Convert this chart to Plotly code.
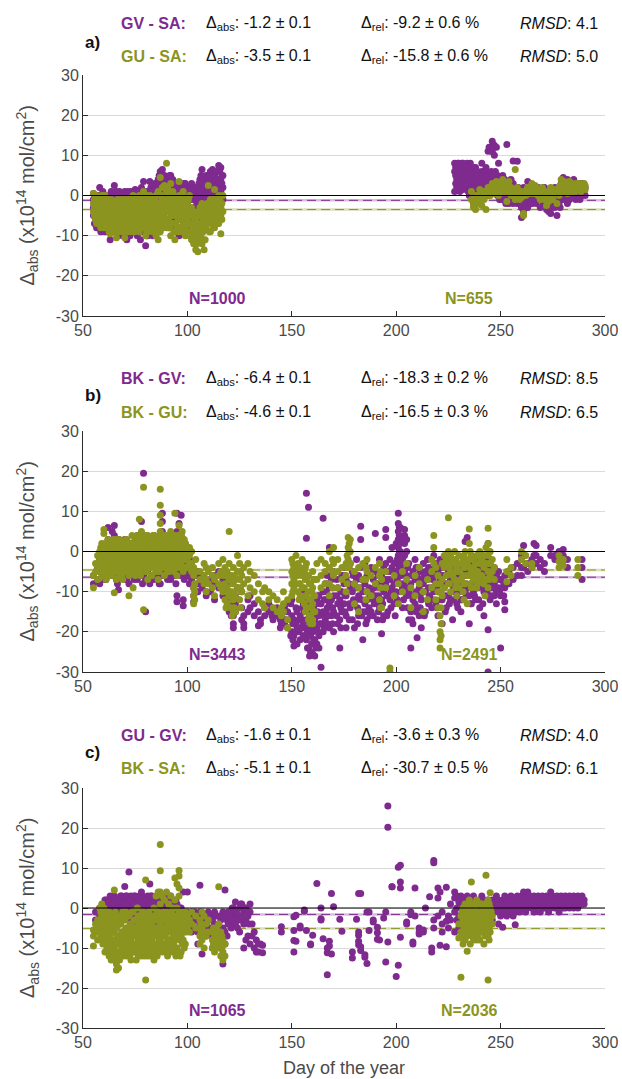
import plotly.graph_objects as go

# ---------------- DATA (day of year, list of differences x1e14 mol/cm2) ----------------
a_gv_sa = [
    (55, [-1, -3, -5, 0.5]), (56, [-2, -4, -6, 0]), (57, [-3, -5.5, -1]), (58, [-2, -6, 2]),
    (59, [-4, -8, -1]), (60, [-3, -5, -7]), (62, [-2, -6, -9]), (63, [-11, -4]),
    (64, [-3, -1, -7]), (65, [2.5, -5, -9]), (66, [1, -4, -8]), (67, [-2, -6, -10]),
    (68, [0, -3, -7]), (70, [-1, -5, -9, 1]), (71, [-3, -11, -7]), (72, [0.5, -4, -8]),
    (73, [-2, -6, 1]), (74, [-1, -9, -5]), (75, [1.5, -3, -7]), (76, [0, -4, -8, -10]),
    (77, [-2, -6, 1]), (78, [2, -1, -5, -9]), (79, [3.5, -3, -7]), (80, [-12.5, 0, -4, -8]),
    (81, [1, -2, -6, -10]), (82, [3.5, 0, -5]), (83, [-1, -3, -8]), (84, [2, 0, -4, -9]),
    (85, [3, -2, -6]), (86, [4, 1, -3, -7]), (87, [6, 3, 0, -5]), (88, [6.5, 4, 1, -2]),
    (89, [5, 3, -1, -4]), (90, [4.5, 2, -2, -6]), (91, [4, 1, -3, -8]), (92, [5, 2, 0, -4]),
    (93, [4, 1, -2, -7]), (94, [3, 0, -4, -9]), (95, [2, -1, -5]), (96, [1, -2, -6, -10]),
    (97, [3, 0, -3, -8]), (98, [2, -1, -5]), (99, [3, 0, -4]), (100, [2, -2, -7]),
    (101, [1, -3, -8]), (102, [3, 0, -5]), (103, [2, -1, -9]), (104, [1, -4, -10]),
    (105, [0, -3, -7]), (106, [4, 2, -2]), (107, [6.5, 3, -1, -6]), (108, [2, -2, -8]),
    (109, [5, 1, -3]), (110, [4, 0, -4]), (111, [6, 2, -2]), (112, [6.5, 3, -1, -5]),
    (113, [5, 2, -3]), (114, [6, 1, -2]), (115, [7.5, 3, 0, -4]), (116, [7, 4, 1]),
    (117, [5, 2, -1]),
    (55.5, [-2, -4, -7]), (56.5, [-1, -5, -8]), (57.5, [0, -3, -7]), (58.5, [-1, -4, -9]),
    (59.5, [1, -2, -6]), (60.5, [0, -4, -9]), (61.5, [-1, -3, -6, -8]), (62.5, [0, -4, -7]),
    (63.5, [1, -2, -6]), (64.5, [-2, -5, -9]), (65.5, [0, -3, -7]), (66.5, [-1, -6, -10]),
    (67.5, [1, -4, -8]), (68.5, [-2, -5, -9]), (69.5, [0, -3, -6, -10]), (70.5, [-2, -7]),
    (71.5, [1, -1, -5, -9]), (72.5, [-2, -6, -10]), (73.5, [0, -3, -8]), (74.5, [1, -4, -7]),
    (75.5, [-1, -5, -9]), (76.5, [1, -2, -6]), (77.5, [0, -4, -8, -11]), (78.5, [-2, -6]),
    (79.5, [1, -1, -5, -9]), (80.5, [-2, -6, -10]), (81.5, [0, -4, -8]), (82.5, [2, -2, -7]),
    (83.5, [1, -5, -10]), (84.5, [3, -1, -6]), (85.5, [2, -4, -8]), (86.5, [5, 2, -1, -5]),
    (87.5, [4, 1, -3, -7]), (88.5, [5, 2, -1, -5]), (89.5, [4, 0, -3, -7]), (90.5, [3, 0, -4]),
    (91.5, [5, 2, -1, -6]), (92.5, [3, 0, -3, -8]), (93.5, [2, -1, -5]), (94.5, [1, -2, -6]),
    (95.5, [3, 0, -3, -8]), (96.5, [2, -1, -4]), (97.5, [1, -2, -6, -9]), (98.5, [3, 0, -3]),
    (99.5, [1, -2, -6]), (100.5, [0, -4, -8]), (101.5, [2, -1, -6]), (102.5, [1, -3, -7]),
    (103.5, [0, -5, -8]), (104.5, [2, -2, -6]), (105.5, [3, -1, -5]), (106.5, [5, 1, -3]),
    (107.5, [4, 0, -4]), (108.5, [3, -1, -6]), (109.5, [2, -2, -5]), (110.5, [5, 1, -3]),
    (111.5, [4, 0, -4]), (112.5, [5, 1, -2]), (113.5, [3, 0, -4]), (114.5, [4, 2, -1]),
    (115.5, [6, 2, -2]), (116.5, [5, 3, 0]),
    (228, [8, 6, 1]), (229, [7, 4, 2]), (230, [8, 5, 3]), (231, [7.5, 6]), (232, [8, 5, 1.5]),
    (233, [7, 4, 2]), (234, [6.5, 8, 3]), (235, [7, 5, 0]), (236, [5, 7, 2]), (237, [6, 4, -2]),
    (238, [7, 5, 1]), (239, [3, 6, -1]), (240, [5, 2, 4]), (241, [6, 3, 8, 0]), (242, [5, 3, 1]),
    (243, [4, 7, 2]), (244, [11, 4, 0]), (245, [12, 5, 3]), (246, [13.5, 11, 2]),
    (247, [12.5, 10, 4]), (248, [12, 5, 1]), (249, [8, 3, 0]), (250, [4, 2, -1]),
    (251, [5, 1, 3]), (252, [4, 2, 0]), (253, [12.7, 3, 1, -1]), (254, [2, 0, -2]),
    (255, [1, 4]), (256, [8.6, 3, 0, -2]), (257, [2, -1]), (258, [8.5, 1, -2]),
    (259, [1, -2, -1]), (260, [0, -3, -5.5]), (261, [2, -1, -4]), (262, [1, -2]),
    (263, [3.5, 0, -3]), (264, [1, -1]), (265, [2, -2]), (266, [0, -1.5]), (267, [1, -2]),
    (268, [2, 0]), (269, [0, -3]), (270, [1, -1]), (271, [2, -2]), (272, [0, -3.5]),
    (273, [1, -4]), (274, [0, -4.5]), (275, [1, -2]), (276, [2, -3]), (277, [-5, 0]),
    (278, [1, -2]), (279, [3, -1]), (280, [4.5, 2, -1]), (281, [3, 0]), (282, [4, 1, -2]),
    (283, [2, -1]), (284, [3, 0]), (285, [4, 1]), (286, [2, -1]), (287, [3, 0]),
    (288, [2, -1]), (289, [3, 0]), (290, [2, 1]),
    (228.5, [7, 5, 3]), (229.5, [8, 6, 2]), (230.5, [6, 4, 1]), (231.5, [8, 5, 3]),
    (232.5, [7, 4, 2]), (233.5, [6, 5, 3]), (234.5, [7, 5, 1]), (235.5, [8, 6, 4]),
    (236.5, [6, 3, 1]), (237.5, [7, 5, 2]), (238.5, [6, 4, 0]), (239.5, [5, 3, 1]),
    (240.5, [4, 2, 0]), (241.5, [5, 3, 1]), (242.5, [6, 4, 2]), (243.5, [5, 3, 0]),
    (244.5, [12, 4, 2]), (245.5, [11, 6, 4]), (246.5, [12, 5, 3]), (247.5, [6, 4, 1]),
    (248.5, [5, 3, 0]), (249.5, [4, 2, -1]), (250.5, [3, 1, 0]), (251.5, [4, 2, -1]),
    (252.5, [3, 1, -2]), (254.5, [2, 0, -1]), (256.5, [1, -1]), (258.5, [2, 0]),
    (260.5, [1, -2]), (262.5, [0, -1, -3]), (264.5, [2, 0, -2]), (266.5, [2, -1]),
    (268.5, [1, -1]), (270.5, [2, 0, -2]), (272.5, [1, -2]), (274.5, [0, -3]),
    (276.5, [1, -1]), (278.5, [0, -3]), (280.5, [3, 0]), (282.5, [2, -1]), (284.5, [1, 3]),
    (286.5, [2, 0]), (288.5, [1, 3]), (290.5, [2, 0]),
]

a_gu_sa = [
    (55, [0.5, -2, -4]), (56, [-1, -3, -6]), (57, [-2, -5]), (58, [-3, -1, -7]),
    (59, [0, -4, -6]), (60, [-2, -5, -8]), (61, [-3, -6]), (62, [-1, -4, -7]),
    (63, [-2, -9.5, -5]), (64, [-3, -6, -8]), (65, [-1.5, -4, -7]), (66, [-2, -5, -10.5]),
    (67, [-3, -6, -8]), (68, [-1, -4, -7]), (69, [-2, -5, -9]), (70, [-3, -6, -10.5]),
    (71, [-1, -4, -8]), (72, [-2, -5, -7]), (73, [-3, -6, -9]), (74, [0, -4, -7]),
    (75, [-2, -5, -8]), (76, [-1, -3, -6]), (77, [0, -4, -7, -9]), (78, [-2, -5, -8]),
    (79, [1, -3, -6]), (80, [-1, -4, -7, -10]), (81, [-2, -5, -9]), (82, [0, -3, -6]),
    (83, [-1, -4, -8]), (84, [-2, -5, -7]), (85, [0, -3, -6, -10]), (86, [1, -4, -11]),
    (87, [4.5, -2, -5, -9]), (88, [2, -1, -6]), (89, [2.5, -3, -7]), (90, [8, 1, -4, -8]),
    (91, [0, -2, -6]), (92, [3, -1, -5, -10]), (93, [1, -3, -7]), (94, [-2, -5, -11]),
    (95, [-1, -4, -8]), (96, [3.5, 0, -3, -6]), (97, [-2, -5, -9]), (98, [1, -3, -7]),
    (99, [-1, -4, -8, -10]), (100, [-2, -6, -9]), (101, [0, -5, -10]), (102, [-3, -7, -11]),
    (103, [-4, -9, -12]), (104, [-6, -10, -13.5]), (105, [-5, -8, -14]), (106, [-3, -9, -11]),
    (107, [-2, -7, -12]), (108, [-4, -6, -13.5]), (109, [-3, -8]), (110, [2.5, -2, -5]),
    (111, [-1, -4, -9]), (112, [-3, -6]), (113, [1.5, -2, -8]), (114, [-1, -5]),
    (115, [0, -4, -7]), (116, [-3, -5, -9.5]), (117, [0, -4]),
    (55.5, [-1, -3, -5]), (56.5, [0, -2, -4, -7]), (57.5, [-1, -4, -6]), (58.5, [-2, -5, -8]),
    (59.5, [-1, -3, -7]), (60.5, [0, -4, -6]), (61.5, [-2, -5, -8]), (62.5, [-3, -6, -9]),
    (63.5, [-1, -4, -7]), (64.5, [-2, -5, -8]), (65.5, [-3, -6, -9]), (66.5, [-1, -4, -7]),
    (67.5, [-2, -5, -9]), (68.5, [-3, -6, -8]), (69.5, [-1, -4, -7]), (70.5, [-2, -5, -8]),
    (71.5, [-3, -6, -9]), (72.5, [-1, -4, -8]), (73.5, [-2, -5, -7]), (74.5, [-3, -6, -9]),
    (75.5, [-1, -4, -7]), (76.5, [-2, -5, -8]), (77.5, [-3, -6]), (78.5, [-1, -4, -7]),
    (79.5, [-2, -5, -8]), (80.5, [0, -3, -6, -9]), (81.5, [-1, -4, -7]), (82.5, [-2, -5, -8]),
    (83.5, [-3, -6, -9]), (84.5, [-1, -4, -7]), (85.5, [-2, -5, -8]), (86.5, [-3, -6, -9]),
    (87.5, [0, -4, -7]), (88.5, [-2, -5, -8]), (89.5, [-1, -4, -6]), (90.5, [2, -3, -7]),
    (91.5, [-1, -4, -8]), (92.5, [-2, -5, -7]), (93.5, [0, -4, -9]), (94.5, [-1, -3, -7]),
    (95.5, [-2, -6, -9]), (96.5, [-1, -4, -8]), (97.5, [0, -3, -6]), (98.5, [-2, -5, -9]),
    (99.5, [-3, -6]), (100.5, [-1, -4, -7]), (101.5, [-3, -7, -9]), (102.5, [-5, -8, -10]),
    (103.5, [-6, -9, -11]), (104.5, [-7, -9, -12]), (105.5, [-4, -7, -10]),
    (106.5, [-5, -8, -10]), (107.5, [-3, -6, -9]), (108.5, [-5, -8, -11]), (109.5, [-2, -5, -7]),
    (110.5, [-3, -6, -9]), (111.5, [-2, -5, -7]), (112.5, [-1, -4, -8]), (113.5, [-3, -6]),
    (114.5, [-2, -4, -7]), (115.5, [-1, -5]), (116.5, [-2, -6]),
    (236, [1, -1]), (237, [-2, -3]), (238, [-3.5, -1]), (239, [-2, 0]), (240, [-1, 1.5]),
    (241, [0, -2.5]), (242, [1, -1]), (243, [0.5, -3.5]), (244, [1, 2]), (245, [0, 1.5]),
    (246, [1, 3]), (247, [2, 0.5]), (248, [1.5, 3.5]), (249, [2, 0]), (250, [1, 3]),
    (251, [2, 4]), (252, [3, 1]), (253, [2, -1.5]), (254, [3.5, 1]), (255, [2, 0]),
    (257, [6.5, 1, -1]), (258, [0.5, 2]), (259, [1, -1]), (260, [-0.5, 1]), (261, [-5, -4.5]),
    (262, [0, 1]), (263, [1, 2]), (264, [0.5, 1.5]), (265, [3, 2]), (266, [2, 0.5]),
    (267, [1, 2]), (268, [0, 1.5]), (269, [1, -1]), (270, [0.5, 2]), (271, [-1, 1]),
    (272, [0, -2.5]), (273, [-1.5, 1]), (274, [0, 2]), (275, [1, -1]), (276, [0.5, 1.5]),
    (277, [1, -2]), (278, [2, 0]), (279, [2.5, 4]), (280, [3, 1]), (281, [1.5, 3]),
    (282, [2.5, 0.5]), (283, [3.5, 1]), (284, [2, 3]), (285, [2.5, 1.5]), (286, [3, 1]),
    (287, [2, 2.5]), (288, [3, 1.5]), (289, [2, 2.5]), (290, [3, 2]),
    (238.5, [-2, 0]), (240.5, [0, -1]), (242.5, [1, 0]), (244.5, [0, 1.5]), (246.5, [2, 1]),
    (248.5, [2, 0.5]), (250.5, [2, 1]), (252.5, [2, 3]), (254.5, [2, 0.5]),
    (262.5, [0.5, 1.5]), (266.5, [1, 2.5]), (270.5, [1, 0]), (274.5, [1, 0.5]),
    (278.5, [1, 2.5]), (280.5, [2, 3.5]), (282.5, [1.5, 3]), (284.5, [2.5, 1]),
    (286.5, [2, 3]), (288.5, [2.5, 1]), (290.5, [2.5, 1.5]),
]

b_bk_gv = [
    (55, [-6, -8]), (57, [-4, -7]), (58, [-2, -5, -8]), (60, [-1, -4, -6]), (61, [1, -3, -7]),
    (62, [6, 3, -2, -5]), (63, [2, -1, -4]), (64, [5, 0, -3, -6]), (65, [6.5, 4, 0, -5]),
    (66, [1, -2, -7]), (67, [3, -1, -4, -9.5]), (68, [2, -3, -6]), (69, [0, -2, -5]),
    (70, [3, -1, -4]), (71, [2, -3, -7]), (72, [1, -2, -5, -8]), (73, [2, 0, -4]),
    (74, [1, -3, -6]), (75, [3, -1, -5]), (76, [4, 0, -4, -7]), (77, [2, -2, -6]),
    (78, [7.5, 3, 0, -5]), (79, [19.5, 4, -2, -6]), (80, [-15, 1, -3, -7]), (81, [2, -1, -5]),
    (82, [3, 0, -4, -8]), (83, [1, -3, -6]), (84, [4, 0, -2, -7]), (85, [3, -1, -5]),
    (86, [2, -3, -6]), (87, [4, 0, -4, -8]), (88, [9.5, 7.5, 5, 2, -3, -6]), (89, [3, -1, -5]),
    (90, [2, -2, -6]), (91, [4, 0, -4]), (92, [3, -1, -5, -7]), (93, [2, -2, -6]),
    (94, [4, 0, -3]), (95, [9.5, 5, -11, -12.5]), (96, [7, 3, -1, -5]), (97, [9, 4, -2, -6]),
    (98, [-12, -13.5, -3]), (99, [2, -1, -4]), (100, [0, -3, -6]), (101, [-2, -5, -8]),
    (60.5, [-5, -7]), (66.5, [-6, -8]), (70.5, [-6, -7]), (74.5, [-7]), (78.5, [-6, -8]),
    (82.5, [-7]), (86.5, [-6, -8]), (90.5, [-7]), (94.5, [-6, -8]), (98.5, [-5, -7]),
    (102, [-4, -7]), (103, [-9, -11, -12.5]), (104, [-6, -10]), (105, [-5, -8, -10]),
    (107, [-6, -9]), (109, [-10, -11]), (111, [-7, -10]), (113, [-6, -8, -12]),
    (115, [-5, -9]), (117, [-7, -11]), (119, [-8, -12, -14]), (120, [-10, -13, -15]),
    (121, [-12, -14, -16]), (122, [-14, -16, -18, -19]), (123, [-11, -13, -15]),
    (124, [-9, -12]), (126, [-10, -14, -17]), (127, [-16, -18, -19]), (129, [-12, -15]),
    (130, [-11, -14]), (132, [-13, -16]), (134, [-15, -18.5]), (135, [-17, -18]),
    (137, [-14, -16]), (139, [-13, -15]), (141, [-15, -17]), (143, [-14, -16]),
    (145, [-16, -18]), (147, [-13, -15, -17]), (148, [-15, -19]), (150, [-12, -16, -20]),
    (151, [-17, -21, -23.5]), (152, [-14, -18, -20]), (154, [-16, -19, -22]),
    (155, [-10, -14, -17]), (156, [-12, -15, -19, -21]), (157, [14.5, 3.3, -13, -17, -22]),
    (158, [11, -15, -19, -24]), (159, [-13, -18, -21, -25]), (160, [-16, -20, -25.5]),
    (161, [-17, -22, -26]), (162, [-12, -19, -23]), (163, [-11, -16, -21, -24]),
    (164, [-28.8, -18, -13]), (165, [8.3, -10, -15, -20]), (166, [-8, -12, -17]),
    (167, [-6, -14, -18]), (168, [1, -9, -13, -19]), (169, [-7, -12, -16]),
    (170, [-5, -11, -15, -20]), (172, [-9, -13, -18]), (173, [-12, -17, -24]),
    (174, [-6, -10, -15]), (175, [-4, -8, -13]), (176, [-7, -11, -16, -19]),
    (178, [-3, -9, -14]), (179, [-5, -10, -17]), (180, [-8, -13, -19]), (181, [-2, -7, -12]),
    (182, [-6, -11, -16]), (183, [6.3, 3, -4, -9]), (184, [-10, -15, -22]),
    (185, [-3, -8, -13]), (186, [-6, -12, -17]), (187, [-9, -14]), (188, [-4, -10, -15]),
    (189, [-7, -12, -16]), (190, [4.5, -5, -11]), (191, [-8, -13, -17]), (192, [-2, -9, -14]),
    (193, [-6, -12, -20.5]), (194, [-4, -10, -16]), (195, [5.5, 3.5, -3, -8]),
    (196, [-5, -11, -15]), (197, [-2, -7, -12]), (198, [1, -4, -9]), (199, [-3, -8, -13]),
    (200, [2, -5, -10]), (201, [9.5, 7, 5, 3, 1, -1, -3, -6]), (202, [6, 3, 0, -4, -8]),
    (203, [-2, -9, -14]), (204, [5.5, 4, 2, -1, -5]), (205, [3, 0, -6, -11]),
    (206, [-3, -10, -17]), (207, [-8, -15, -24]), (208, [-5, -12, -18]), (209, [-2, -7, -13]),
    (210, [-6, -14, -21.5]), (211, [-4, -9, -16]), (212, [-7, -12, -19]), (213, [-3, -8]),
    (214, [-5, -10, -15]), (215, [-2, -7, -12]), (216, [-6, -11]), (217, [-4, -9, -14]),
    (218, [-1, -6, -10]), (219, [-3, -8, -13]), (220, [-5, -10, -16]), (221, [-2, -7]),
    (222, [-6, -12, -18]), (223, [-4, -9]), (224, [-3, -8, -14]), (225, [-5, -11]),
    (226, [-2, -7, -12]), (227, [-6, -10, -17]), (228, [-4, -8]), (229, [-3, -9, -13]),
    (230, [-5, -10]), (231, [-7, -12, -15]), (232, [-4, -8]), (233, [2.5, -2, -6, -10]),
    (234, [3.5, -4, -9]), (235, [-6, -11, -18]), (236, [-3, -8, -13]), (237, [-5, -10]),
    (238, [-2, -7, -12]), (239, [-6, -9]), (240, [-4, -8, -14]), (241, [-3, -7]),
    (242, [-5, -10, -16]), (243, [-2, -6, -11]), (244, [2, -4, -8, -19.5, -30]),
    (245, [-3, -7, -12]), (246, [-5, -9]), (247, [-4, -8, -11]), (248, [-6, -10, -13]),
    (249, [-5, -9]), (250, [-7, -11, -24]), (252, [-6, -9, -12.5, -14.5]), (254, [-5, -8]),
    (256, [-4, -7]), (258, [-3, -6]), (260, [-1, -4, -6]), (261, [1.5, -1, -4]),
    (263, [-3, -5]), (265, [-2, -4]), (266, [2, -1]), (267, [1.5, -1, -3]), (269, [-2, -4]),
    (271, [-3, -5]), (274, [1, -1]), (276, [-1, -2]), (278, [0, -2]), (280, [0.5, -1, -2]),
    (282, [-2, -4]), (289, [-2, -4, -7]),
    (140.5, [-14, -16]), (144.5, [-15, -17, -19]), (146.5, [-14, -18]),
    (149.5, [-13, -17, -21]), (150.5, [-18, -22]), (152.5, [-15, -19, -23]),
    (153.5, [-17, -20]), (155.5, [-13, -18, -21]), (157.5, [-14, -20, -24]),
    (158.5, [-16, -21, -26]), (159.5, [-15, -19, -23]), (160.5, [-14, -18, -22]),
    (161.5, [-13, -19, -24]), (162.5, [-11, -15, -20]), (163.5, [-13, -18]),
    (165.5, [-12, -16, -19]), (166.5, [-10, -15]), (167.5, [-8, -12, -16]),
    (169.5, [-9, -14, -18]), (171.5, [-7, -11, -16]), (173.5, [-10, -14, -19]),
    (175.5, [-6, -11, -15]), (177.5, [-8, -13, -17]), (179.5, [-6, -12]),
    (181.5, [-9, -14, -18]), (183.5, [-7, -12, -16]), (185.5, [-10, -15, -18]),
    (187.5, [-5, -11, -16]), (189.5, [-9, -13]), (191.5, [-6, -11, -15]),
    (193.5, [-8, -13, -17]), (195.5, [-7, -11, -16]), (197.5, [-5, -10, -14]),
    (199.5, [-6, -11, -16]), (200.5, [-2, -7, -12]), (201.5, [6, 4, 2, 0, -2, -4]),
    (202.5, [-3, -6, -10]), (203.5, [-5, -8, -12]), (205.5, [-4, -9, -14]),
    (207.5, [-6, -11, -17]), (209.5, [-4, -10, -15]), (211.5, [-5, -11, -14]),
    (213.5, [-6, -10, -16]), (215.5, [-4, -9, -13]), (217.5, [-7, -12]),
    (219.5, [-5, -9, -14]), (221.5, [-4, -8, -12]), (223.5, [-6, -11, -15]),
    (225.5, [-3, -8, -13]), (227.5, [-5, -9, -12]), (229.5, [-6, -10, -14]),
    (231.5, [-3, -9, -12]), (233.5, [-5, -8, -11]), (235.5, [-4, -9, -13]),
    (237.5, [-3, -7, -11]), (239.5, [-5, -8, -12]), (241.5, [-4, -9, -13]),
    (243.5, [-6, -10]), (245.5, [-4, -8, -11]), (247.5, [-6, -9]), (249.5, [-7, -10]),
    (251.5, [-8, -11]),
]

b_bk_gu = [
    (55, [-6, -9]), (56, [-3, -5]), (57, [-1, -4, -7]), (58, [0, -2, -5]), (59, [2, -1, -3, -6]),
    (60, [5.5, 4.5, 0, -3]), (61, [1, -2, -5, -7]), (62, [3, -1, -4]), (63, [0, -3, -6]),
    (64, [2, -2, -5]), (65, [-10.3, 1, -3]), (66, [3, 0, -4, -7]), (67, [1, -2, -5]),
    (68, [2, -1, -3, -6]), (69, [0, -4, -7]), (70, [2, -2, -5]), (71, [3, 0, -3]),
    (72, [-11, 1, -2, -6]), (73, [2, -1, -4]), (74, [-9, 0, -3, -5]), (75, [3, 1, -2, -6]),
    (76, [4, 0, -4]), (77, [8, 2, -1, -5]), (78, [5, 1, -3]), (79, [16, -14.5, 3, 0, -4]),
    (80, [2, -2, -5]), (81, [4, 0, -3, -7]), (82, [3, -1, -4]), (83, [1, -2, -6]),
    (84, [4, 2, -3]), (85, [3, 0, -5]), (86, [2, -1, -4, -7]),
    (87, [15.5, 11.5, 9, 7, 5, 3, 0, -4]), (88, [4, 1, -3]), (89, [2, -2, -6]),
    (90, [4, 0, -4]), (91, [3, -1, -5]), (92, [5, 2, -2]), (93, [3, 0, -4]),
    (94, [9.5, 4, 1, -3]), (95, [2, -2, -6]), (96, [6.5, 3, 0, -4]), (97, [4, 1, -3]),
    (98, [3, 0, -2, -5]), (99, [2, -1, -4]), (100, [0, -2, -4]), (101, [1, -1, -3]),
    (58.5, [1, -2, -4]), (59.5, [-1, -3, -5]), (60.5, [2, -1, -4]), (61.5, [0, -3, -6]),
    (62.5, [2, -2, -5]), (63.5, [1, -1, -4]), (64.5, [3, 0, -3, -6]), (65.5, [2, -1, -4]),
    (66.5, [1, -2, -5]), (67.5, [3, 0, -3]), (68.5, [1, -2, -4, -6]), (69.5, [2, -1, -3]),
    (70.5, [3, 0, -4]), (71.5, [1, -2, -5]), (72.5, [2, -1, -3]), (73.5, [4, 0, -2, -5]),
    (74.5, [2, -1, -4]), (75.5, [1, -2, -5]), (76.5, [3, -1, -3]), (77.5, [4, 1, -2, -6]),
    (78.5, [2, -1, -4]), (79.5, [3, 0, -3]), (80.5, [4, 1, -2, -5]), (81.5, [2, -1, -4]),
    (82.5, [3, 0, -3, -6]), (83.5, [4, 1, -2]), (84.5, [2, -1, -4]), (85.5, [3, 0, -3]),
    (86.5, [4, 1, -2, -5]), (87.5, [3, 1, -2]), (88.5, [2, -1, -4]), (89.5, [4, 0, -3]),
    (90.5, [3, 1, -2, -5]), (91.5, [2, -1, -4]), (92.5, [4, 0, -3]), (93.5, [3, 1, -2, -5]),
    (94.5, [2, -1, -4]), (95.5, [4, 1, -2]), (96.5, [3, 0, -3]), (97.5, [5, 2, -1, -4]),
    (98.5, [3, 0, -2]), (99.5, [1, -2, -4]),
    (102, [0, -3, -5]), (103, [-4, -6, -9, -11, -13]), (104, [-2, -5]), (106, [-5, -7]),
    (108, [-3, -6, -8]), (109, [-4, -7, -10]), (110, [-5, -8]), (112, [-4, -6, -9]),
    (113, [-7, -11]), (115, [-3, -6, -8]), (116, [-5, -9]), (117, [-2, -6, -10]),
    (118, [-4, -8, -12]), (119, [-5, -9, -13]), (120, [5, -3, -7, -11]),
    (121, [-6, -10, -14]), (122, [-4, -8, -12, -15]), (123, [-7, -11, -15]),
    (124, [-1, -5, -9]), (125, [-3, -7, -12]), (126, [-6, -10]), (127, [-4, -8]),
    (129, [-3, -7, -11]), (130, [-5, -9]), (132, [-6, -10]), (134, [-8, -12]),
    (136, [-10, -13]), (137, [-9, -14]), (139, [-10, -12]), (141, [-11, -14]),
    (143, [-12, -15]), (145, [-14, -16]), (146, [-10, -13, -15]), (148, [-12, -17, -19]),
    (150, [-2, -5, -8, -11]), (151, [-4, -7, -9]), (152, [-1, -5, -8]), (153, [-3, -6, -10]),
    (154, [-4, -8, -11]), (155, [-2, -6, -9, -12]), (156, [-5, -9, -13]),
    (157, [-3, -7, -11, -14]), (158, [-6, -10, -14, -17]), (159, [-8, -12, -16, -18]),
    (160, [-5, -9, -13, -17, -18]), (161, [-7, -11, -15]), (162, [-3, -7]),
    (164, [-2, -6, -9]), (166, [-3, -5, -8]), (168, [0, -4, -8, -11]), (170, [1, -3, -6]),
    (172, [-2, -5, -9]), (174, [-4, -7]), (176, [-3, -6, -10]), (177, [3.5, 1, -2]),
    (178, [3, 0, -3]), (180, [-5, -8, -13]), (182, [-4, -9, -15]), (184, [-3, -7]),
    (186, [-2, -5, -10]), (188, [-6, -11]), (190, [-4, -8]), (192, [-3, -6, -12]),
    (193, [-7, -14]), (195, [-5, -9]), (197, [-29, -30]), (199, [-6, -11]),
    (201, [-8, -13]), (203, [-5, -10]), (205, [-3, -7]), (207, [-9, -14]), (209, [-6, -11]),
    (211, [-4, -8]), (213, [-10, -15]), (215, [-7, -12]), (217, [-2, -5, -9]),
    (218, [4, 1, -3]), (219, [-4, -8, -12]), (220, [-6, -10, -14]),
    (221, [-8, -16, -20, -22, -24]), (222, [-3, -7, -11]), (223, [-1, -4, -9]),
    (224, [-2, -6]), (225, [8.4, 0, -3, -8]), (226, [-1, -5, -10]), (227, [-2, -6]),
    (228, [0, -3, -7]), (229, [-4, -8, -11]), (230, [-1, -5, -9]), (231, [-3, -7]),
    (232, [-2, -6, -10]), (233, [0, -4, -8]), (234, [-3, -6, -13]), (235, [5.6, 2, -2, -6]),
    (236, [-1, -5, -9]), (237, [-2, -4, -7]), (238, [-3, -6]), (239, [-1, -5, -8]),
    (240, [0, -3, -7]), (241, [-2, -6]), (242, [-1, -4, -8]), (243, [1, -3, -7]),
    (244, [5.8, 2, -1, -5, -9]), (245, [0, -3, -6]), (246, [-2, -5]), (247, [-4, -7]),
    (253, [-2, -5, -7.5]), (255, [-4, -6]), (260, [0, -2]), (262, [-1, -3]), (265, [-3, -4]),
    (278, [-1, -2.5, -4]), (280, [-2, -3.5]), (287, [-2, -4, -6]),
    (103.5, [-5, -8, -10, -12]), (118.5, [-6, -10, -14]), (121.5, [-8, -12, -16]),
    (122.5, [-6, -10, -14]), (125.5, [-5, -9, -14]), (150.5, [-3, -6, -10]),
    (153.5, [-5, -8, -12]), (156.5, [-4, -7, -11, -15]), (158.5, [-8, -12, -16]),
    (159.5, [-10, -14, -17]), (160.5, [-7, -11, -15]), (169.5, [-2, -5, -9]),
    (176.5, [-1, -4, -8]), (177.5, [2, 0, -4]), (185.5, [-4, -7, -12]),
    (192.5, [-5, -9, -14]), (221.5, [-10, -14, -18, -21]), (225.5, [-4, -8]),
    (228.5, [-2, -5, -9]), (232.5, [-1, -4, -8, -12]), (235.5, [0, -4, -8]),
    (238.5, [-1, -5, -9]), (240.5, [-2, -6]), (242.5, [-3, -7, -11]), (244.5, [0, -3, -7]),
]

c_gu_gv = [
    (56, [-3, -1]), (58, [0, -2, -4]), (60, [1, -1, -3]), (61, [2, 0, -2]), (62, [1, -1, -4]),
    (63, [3, 0, -2]), (64, [2, 1, -1, -3]), (65, [3, 0, -2]), (66, [1.5, -1, -3]),
    (67, [2, 0, -2, -4]), (68, [3, 1, -1]), (69, [2, 0, -3]), (70, [5.4, 2, -1]),
    (71, [3, 1, -2]), (72, [9, 2, 0, -3]), (73, [3, 1, -1]), (74, [2, 0, -2, -4]),
    (75, [3, 1, -1]), (76, [2, -1, -3]), (77, [3, 1, 0]), (78, [4, 2, -2]), (79, [2, 0, -3]),
    (80, [1, -1, -4]), (81, [3, 1, -2]), (82, [6, 2, 0]), (83, [3, 1, -1]), (84, [2, 0, -3]),
    (85, [1, -2, -4]), (86, [3, 0, -2]), (87, [2, -1, -3]), (88, [1, -2, -5]),
    (89, [3, 0, -3]), (90, [2, -1, -4]), (91, [1, -2]), (92, [3, 0, -3]), (93, [2, -1, -4]),
    (94, [0, -2, -5]), (95, [1, -3]), (96, [-1, -4]), (97, [0, -3, -6]), (98, [4, -2, -5]),
    (60.5, [2, 0]), (62.5, [2, 0, -1]), (64.5, [3, 1]), (66.5, [2, 0]), (68.5, [3, 1, 0]),
    (70.5, [3, 1]), (72.5, [2, 0, -1]), (74.5, [3, 1]), (76.5, [2, 1]), (78.5, [3, 0]),
    (80.5, [2, 1]), (82.5, [3, 1]), (84.5, [2, 0]), (86.5, [3, 1]), (88.5, [2, 0]),
    (90.5, [3, 1]), (92.5, [1, -1]), (94.5, [2, 0]), (96.5, [0, -2]), (98.5, [-1, -3]),
    (100, [4, -1, -4]), (101, [-2, -5]), (102, [-1, -4, -6]), (104, [-3, -5]),
    (105, [-2, -6, -9]), (106, [5.7, -1, -4]), (107, [-3, -6, -11.5]), (108, [-2, -5]),
    (109, [-4, -7]), (110, [-1, -3, -6]), (111, [-2, -5]), (112, [-3, -7, -10]),
    (113, [-1, -4]), (114, [-2, -6]), (115, [-4, -8]), (116, [-3, -10]), (117, [-1, -5, -14]),
    (118, [4.5, -2, -6, -9]), (119, [-3, -7]), (120, [-1, -4]), (121, [-2, -5]),
    (122, [0, -3]), (123, [1.5, -1, -4]), (124, [-2, -5]), (125, [0, -3, -6]), (126, [1, -2]),
    (127, [-1, -4, -10]), (128, [0, -3, -8]), (129, [-2, -7]), (130, [1, -1, -9]),
    (131, [-4, -7]), (132, [-6, -10]), (133, [-8, -11]), (134, [-9, -11]), (135, [-9]),
    (103.5, [-1, -3, -5]), (107.5, [-2, -4]), (111.5, [-3, -6]), (115.5, [-2, -5]),
    (119.5, [-1, -4]), (121.5, [0, -3]), (123.5, [-1, -3]), (125.5, [1, -2]),
    (127.5, [0, -2]), (129.5, [-1, -4]),
    (136, [-9.3, -11.2]), (145, [-4.7, -6]), (151, [-2.2, -5.6, -8.1, -11]),
    (152, [-1.8, -8.3]), (154, [-4.5, -5]), (156, [-0.8, -0.5]), (157, [-5.6]),
    (159, [-9.2, -9]), (160, [-6.8]), (162, [6.1]), (164, [0, -2.7, -3]), (165, [-7.7]),
    (167, [-10, -11.2, -16.7]), (168, [-8.3, -9.5]), (169, [3.6, -11.5]), (170, [0.3]),
    (173, [-2.8]), (174, [-5.8]), (179, [-11, -12.5]), (181, [-2.8]),
    (182, [3.6, -6, -6.8, -8.3, -9.2]), (183, [3.6, -9.7, -10.6]), (185, [-11.7, -12.3]),
    (186, [-13.9, -1]), (187, [-1, -5.6]), (189, [-3.5, -3]), (191, [-4.8, -6.2, -7.8]),
    (192, [-8]), (194, [-2.5]), (195, [-1, -13.5]), (196, [25.5, 20.2, -8.5]),
    (198, [5.3, 5.3]), (200, [-17.1]), (201, [10.2, -14.3]), (202, [10.7, 6.5, 5, -7.3]),
    (205, [-3.5, -4]), (207, [-1, -1.7]), (208, [-8.5, -9]), (209, [5, -2]),
    (211, [-5, -6, -6.5]), (213, [-5.5, -6]), (214, [0]), (216, [2.8]), (217, [-10, -11]),
    (218, [11.9, 11.3, -3, -5]), (220, [5, 2.5, -2]), (221, [-9.3, 4]), (222, [-1, -4, -6]),
    (224, [5.2, -3.3, -9.7]), (225, [-2, -5]), (226, [1, -3]), (228, [2.5, 4, -1, -6]),
    (229, [3, 0, -3]), (230, [1.5, -2, -5]), (231, [3, 0, -4]), (232, [2, -1, -3]),
    (233, [1, -2, -5]), (234, [3, 0, -3]), (235, [2, -1, -4]), (236, [1, -2]),
    (237, [3, 0, -3]), (238, [2, -1, -4]), (239, [1, -2, -6.4]), (240, [2, 0, -3]),
    (241, [3, 1, -1]), (242, [2, -1, -4]), (243, [1, 0, -2]), (244, [2, -1, -3]),
    (245, [1, 0, -2]), (246, [2, 0, -3]), (247, [1, -1]), (248, [3, 0]), (249, [2, -1, -4]),
    (250, [1, 0, -2]), (251, [2, -1, -4.8]), (252, [3, 1, -1]), (253, [2, 0, -2]),
    (254, [1, -1]), (255, [3, 1, 0]), (256, [2, 0, -2]), (257, [1, -1, -4.2]),
    (258, [3, 2, 0]), (259, [2, 1, -1]), (260, [3, 1, 0]), (261, [4, 2, 0]),
    (262, [3, 1, -1]), (263, [4, 2, 0]), (264, [3, 1]), (265, [2, 0]), (266, [3, 1, -1]),
    (267, [2, 1, 0]), (268, [3, 2, 0]), (269, [2, 1, -1]), (270, [3, 1, 0]), (271, [2, 0, 1]),
    (272, [3, 2, 0]), (273, [2, 1, -1]), (274, [4, 2, 0]), (275, [3, 1]), (276, [2, 0, 1]),
    (277, [3, 1, 0]), (278, [2, 1, -1]), (279, [3, 1]), (280, [2, 0, 1]), (281, [3, 2, 0]),
    (282, [2, 1]), (283, [3, 1, 0]), (284, [2, 1]), (285, [3, 2, 0]), (286, [2, 1]),
    (287, [3, 1, 0]), (288, [2, 1]), (289, [3, 2, 1]), (290, [2, 1]),
]

c_bk_sa = [
    (55, [-5.5, -7, -9.5]), (56, [-4, -6]), (57, [-3, -5, -8]), (58, [0, -3, -6]),
    (59, [1, -2, -5, -8]), (60, [0, -4, -7]), (61, [-1, -5, -9]), (62, [-3, -6, -10]),
    (63, [-2, -7, -11]), (64, [-4, -8, -12]), (65, [4.5, -3, -6, -10, -13]),
    (66, [-5, -9, -14, -15.5]), (67, [-2, -7, -11, -15]), (68, [-4, -8, -12]),
    (69, [-1, -6, -10]), (70, [-3, -7, -11]), (71, [-5, -9, -12]), (72, [-2, -6, -10]),
    (73, [-4, -8, -13]), (74, [-1, -5, -9]), (75, [-3, -7, -11]), (76, [0, -6, -10]),
    (77, [-2, -5, -9]), (78, [-4, -8, -12]), (79, [-1, -6, -10]), (80, [7, -3, -7, -18]),
    (81, [-5, -9, -12]), (82, [-2, -6, -10]), (83, [-4, -8, -11]), (84, [0, -5, -9, -13]),
    (85, [3, -3, -7, -11]), (86, [4, -1, -6, -10]), (87, [15.9, 9.3, 4, 1, -4, -8]),
    (88, [3, -2, -7, -11]), (89, [2, -5, -9]), (90, [4, -1, -6, -10]), (91, [1, -3, -8]),
    (92, [3, -2, -5, -9]), (93, [0, -4, -7, -11]), (94, [7.5, 2, -3, -8]),
    (95, [6, 0, -5, -10]), (96, [9.4, 8, 5, 3, -1, -6]), (97, [-3, -7, -11]),
    (98, [-2, -5, -8]), (99, [-1, -4, -9]),
    (58.5, [-1, -4, -7]), (59.5, [-3, -6, -9]), (60.5, [-2, -5, -8, -11]), (61.5, [-3, -7, -10]),
    (62.5, [-1, -4, -8, -12]), (63.5, [-5, -9, -13]), (64.5, [-2, -6, -10]),
    (65.5, [-1, -4, -8, -11]), (66.5, [-3, -7, -12]), (67.5, [-4, -9, -13]),
    (68.5, [-2, -6, -10]), (69.5, [-3, -8, -12]), (70.5, [-1, -5, -9]), (71.5, [-2, -7, -11]),
    (72.5, [-4, -8, -12]), (73.5, [-1, -6, -10]), (74.5, [-3, -7, -11]), (75.5, [-5, -9, -13]),
    (76.5, [-2, -4, -8, -12]), (77.5, [-3, -7, -11]), (78.5, [-1, -6, -10]),
    (79.5, [-2, -5, -9, -12]), (80.5, [-4, -8, -11]), (81.5, [-1, -3, -7]),
    (82.5, [-4, -8, -12]), (83.5, [-2, -6, -10]), (84.5, [-3, -7, -11]),
    (85.5, [-1, -5, -9, -12]), (86.5, [-2, -8, -11]), (87.5, [-3, -6, -10]),
    (88.5, [-1, -5, -9]), (89.5, [-3, -7, -11]), (90.5, [-2, -4, -8, -12]),
    (91.5, [-5, -9, -11]), (92.5, [-1, -6, -10]), (93.5, [-2, -6, -9]), (94.5, [-4, -7, -12]),
    (95.5, [-2, -7, -11]), (96.5, [-4, -8, -12]), (97.5, [-1, -5, -9]), (98.5, [-3, -6, -10]),
    (99.5, [-2, -6]),
    (100, [-2, -5]), (101, [-3, -6]), (102, [-1, -4]),
    (104, [-2, -5]), (106, [-3, -7, -9]), (107, [-1, -5, -8]), (108, [-2, -6, -10]),
    (109, [-4, -7]), (110, [-3, -6]), (112, [-6, -8, -10]), (113, [-7, -9, -11]),
    (114, [-5, -8]), (115, [5.3, -4, -7, -10]), (116, [-6, -9, -12]), (117, [-8, -11, -13]),
    (118, [-9, -12]), (106.5, [-4, -6]), (112.5, [-5, -9]), (113.5, [-6, -10]),
    (116.5, [-7, -10]), (117.5, [-9, -12]),
    (230, [-7.5, -4]), (231, [-6, -2, -17.3]), (232, [0, -3, -6, -9]), (233, [1, -2, -5, -8]),
    (234, [-1, -4, -7, -10.8]), (235, [2, -2, -5]), (236, [6.5, 0, -3, -6]),
    (237, [1, -2, -5, -8]), (238, [0, -3, -6]), (239, [1.5, -1, -4, -7]), (240, [-2, -5, -8]),
    (241, [1, -1, -4]), (242, [0, -3, -6, -9]), (243, [8.2, 1, -2, -5]),
    (244, [2, -1, -4, -7, -18]), (245, [3.8, 0, -3, -6]), (246, [-2, -4]),
    (231.5, [-1, -4, -7]), (232.5, [-2, -5, -8]), (233.5, [0, -3, -6]),
    (235.5, [1, -3, -6, -9]), (236.5, [-1, -4, -7]), (237.5, [0, -3, -6]),
    (238.5, [2, -1, -4, -8]), (240.5, [1, -3, -6]), (241.5, [0, -2, -5]),
    (242.5, [1, -4, -7]), (243.5, [-1, -3, -6]), (244.5, [1, -2, -5, -8]), (245.5, [-1, -4]),
]

# mean offsets (dashed lines) per panel: (purple, olive)
means = [(-1.2, -3.5), (-6.4, -4.6), (-1.6, -5.1)]
pair_labels = [("GV - SA:", "GU - SA:"), ("BK - GV:", "BK - GU:"), ("GU - GV:", "BK - SA:")]
abs_txt = [("-1.2 ± 0.1", "-3.5 ± 0.1"), ("-6.4 ± 0.1", "-4.6 ± 0.1"), ("-1.6 ± 0.1", "-5.1 ± 0.1")]
rel_txt = [("-9.2 ± 0.6 %", "-15.8 ± 0.6 %"), ("-18.3 ± 0.2 %", "-16.5 ± 0.3 %"), ("-3.6 ± 0.3 %", "-30.7 ± 0.5 %")]
rmsd_txt = [("4.1", "5.0"), ("8.5", "6.5"), ("4.0", "6.1")]
n_txt = [("N=1000", "N=655"), ("N=3443", "N=2491"), ("N=1065", "N=2036")]
panel_letters = ["a)", "b)", "c)"]
x_ticks = [50, 100, 150, 200, 250, 300]
y_ticks = [-30, -20, -10, 0, 10, 20, 30]

# ---------------- FIGURE ----------------
PURPLE = "#7E2A8E"
OLIVE = "#8C9420"
W, H = 622, 1079
ML, MR = 83, 17
FONT = "Liberation Sans, Arial, sans-serif"
TICKC = "#4a4a4a"
AXC = "#2b2b2b"


def expand(groups):
    xs, ys = [], []
    for d, vs in groups:
        for v in vs:
            xs.append(d)
            ys.append(v)
    return xs, ys


def py2paper(py):
    return 1 - py / H


def px2paper(px):
    return (px - ML) / (W - ML - MR)


series = [(a_gv_sa, a_gu_sa), (b_bk_gv, b_bk_gu), (c_gu_gv, c_bk_sa)]
panel_px = [(75, 316), (431, 672), (788, 1028)]
header_px = [(23, 42, 57), (378, 395, 412), (735, 752, 768)]

fig = go.Figure()
annotations = []
shapes = []

for i in range(3):
    sfx = "" if i == 0 else str(i + 1)
    xa, ya = "x" + sfx, "y" + sfx
    p_ser, o_ser = series[i]
    for ser, col in ((p_ser, PURPLE), (o_ser, OLIVE)):
        xs, ys = expand(ser)
        fig.add_trace(go.Scatter(x=xs, y=ys, mode="markers", xaxis=xa, yaxis=ya,
                                 marker=dict(size=7, color=col, line=dict(width=0)),
                                 showlegend=False, hoverinfo="skip"))
    top, bot = panel_px[i]
    fig.layout["xaxis" + sfx] = dict(
        domain=[0, 1], range=[50, 300], anchor=ya, tickvals=x_ticks,
        ticktext=[str(t) for t in x_ticks], ticks="inside", ticklen=5, tickcolor=AXC,
        showline=True, linecolor=AXC, linewidth=1, showgrid=False, zeroline=False,
        tickfont=dict(size=16, color=TICKC, family=FONT), automargin=False)
    fig.layout["yaxis" + sfx] = dict(
        domain=[py2paper(bot), py2paper(top)], range=[-30, 30], anchor=xa,
        tickvals=y_ticks, ticktext=[str(t) for t in y_ticks], ticks="inside", ticklen=5,
        tickcolor=AXC, showline=True, linecolor=AXC, linewidth=1, showgrid=True,
        gridcolor="#dadada", gridwidth=1, zeroline=False,
        tickfont=dict(size=16, color=TICKC, family=FONT), automargin=False)

    for m, col in zip(means[i], (PURPLE, OLIVE)):
        shapes.append(dict(type="line", xref=xa, yref=ya, x0=50, x1=300, y0=m, y1=m,
                           line=dict(color=col, width=2.5), opacity=0.3, layer="below"))
        shapes.append(dict(type="line", xref=xa, yref=ya, x0=50, x1=300, y0=m, y1=m,
                           line=dict(color=col, width=1, dash="9px,5px"), layer="below"))
    shapes.append(dict(type="line", xref=xa, yref=ya, x0=50, x1=300, y0=0, y1=0,
                       line=dict(color="black", width=1.2), layer="above"))

    r1, rl, r2 = header_px[i]
    annotations.append(dict(xref="paper", yref="paper", x=px2paper(83), y=py2paper(rl),
                            xanchor="left", yanchor="middle", showarrow=False,
                            text="<b>" + panel_letters[i] + "</b>",
                            font=dict(size=17, color="#111", family=FONT)))
    for row, (py, col) in enumerate(((r1, PURPLE), (r2, OLIVE))):
        yp = py2paper(py)
        annotations.append(dict(xref="paper", yref="paper", x=px2paper(119), y=yp,
                                xanchor="left", yanchor="middle", showarrow=False,
                                text="<b>" + pair_labels[i][row] + "</b>",
                                font=dict(size=16, color=col, family=FONT)))
        annotations.append(dict(xref="paper", yref="paper", x=px2paper(204), y=yp,
                                xanchor="left", yanchor="middle", showarrow=False,
                                text="Δ<sub>abs</sub>: " + abs_txt[i][row],
                                font=dict(size=16, color="#111", family=FONT)))
        annotations.append(dict(xref="paper", yref="paper", x=px2paper(359), y=yp,
                                xanchor="left", yanchor="middle", showarrow=False,
                                text="Δ<sub>rel</sub>: " + rel_txt[i][row],
                                font=dict(size=16, color="#111", family=FONT)))
        annotations.append(dict(xref="paper", yref="paper", x=px2paper(518), y=yp,
                                xanchor="left", yanchor="middle", showarrow=False,
                                text="<i>RMSD</i>: " + rmsd_txt[i][row],
                                font=dict(size=16, color="#111", family=FONT)))
    for xv, txt, col in ((114.6, n_txt[i][0], PURPLE), (235, n_txt[i][1], OLIVE)):
        annotations.append(dict(xref=xa, yref=ya, x=xv, y=-25.7, xanchor="center",
                                yanchor="middle", showarrow=False, text="<b>" + txt + "</b>",
                                font=dict(size=16, color=col, family=FONT)))
    annotations.append(dict(xref="paper", yref="paper", x=px2paper(27),
                            y=py2paper((top + bot) / 2), xanchor="center", yanchor="middle",
                            textangle=-90, showarrow=False,
                            text="Δ<sub>abs</sub> (x10<sup>14</sup> mol/cm<sup>2</sup>)",
                            font=dict(size=20, color=TICKC, family=FONT)))

annotations.append(dict(xref="paper", yref="paper", x=0.5, y=py2paper(1068),
                        xanchor="center", yanchor="middle", showarrow=False,
                        text="Day of the year", font=dict(size=18, color=TICKC, family=FONT)))

fig.update_layout(width=W, height=H, margin=dict(l=ML, r=MR, t=0, b=0),
                  paper_bgcolor="white", plot_bgcolor="white", showlegend=False,
                  annotations=annotations, shapes=shapes,
                  font=dict(family=FONT))

fig.write_html("out.html", config={"displayModeBar": False},
               post_script="document.body.style.margin='0px';")
